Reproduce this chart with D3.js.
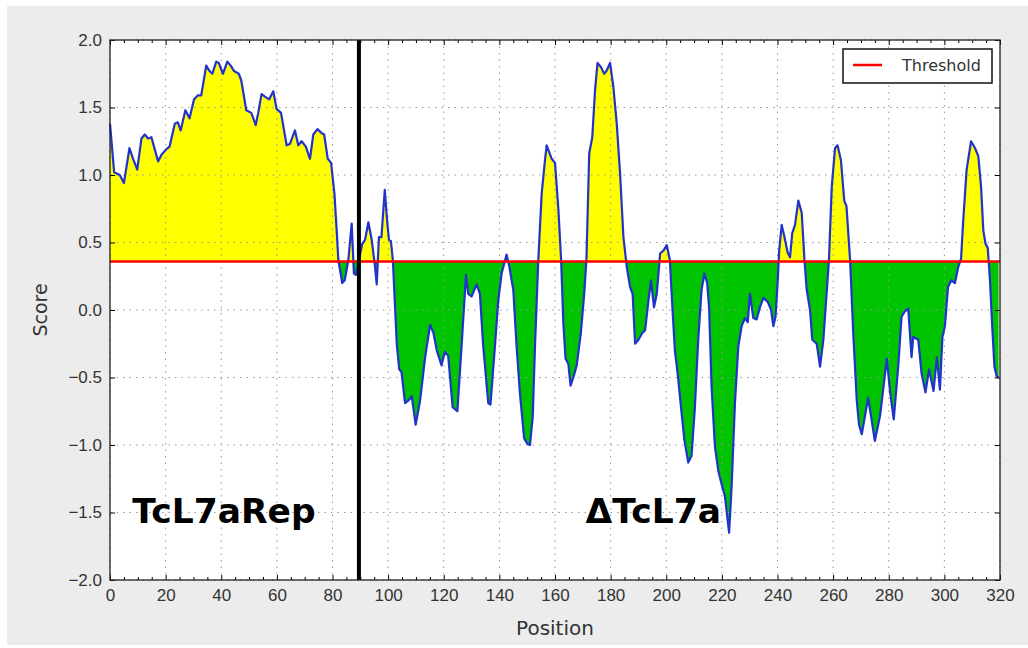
<!DOCTYPE html>
<html>
<head>
<meta charset="utf-8">
<script src="https://cdn.jsdelivr.net/npm/d3@7"></script>
<style>
  html, body { margin: 0; padding: 0; background: #fff; }
  svg { display: block; font-family: "DejaVu Sans", sans-serif; }
  .axis text { fill: #333; font-size: 17px; }
</style>
</head>
<body>
<div id="chart"></div>
<script>
// Data
const positions = [
  0, 1.5, 3.5, 5, 7, 8.3, 9.8, 11.3, 12.5, 13.7, 14.9, 16.1, 17.3, 18.5, 20.2, 21.4,
  23.3, 24.4, 25.4, 27.1, 28.6, 30.2, 31.6, 32.8, 34.6, 35.8, 36.8, 38.2, 39.1, 40.6,
  42.2, 43.4, 44.6, 46.3, 47.2, 49, 50.8, 52.4, 53.3, 54.5, 55.7, 57.2, 58.7, 59.9,
  61.5, 63.5, 64.7, 66.5, 67.7, 68.9, 70.4, 71.9, 73.1, 74.6, 76.1, 77, 78.3, 79.5,
  80.7, 81.5, 82.1, 83.5, 84.4, 85.7, 86.9, 87.7, 88.4, 90.7, 91.7, 92.9, 94.1, 95.3,
  95.9, 96.7, 97.6, 98.8, 99.6, 100.3, 101, 101.7, 103.1, 104, 104.8, 106.1, 107.3,
  108.5, 109.9, 111.5, 113.3, 115.1, 116.3, 117.5, 119.2, 120.4, 121.6, 123.2, 124.9,
  126.4, 128, 128.8, 130, 131.8, 133, 134.2, 136, 136.8, 138.4, 139.6, 140.8, 142.6,
  143.6, 145, 146.2, 147.4, 148.9, 150, 151, 152, 152.8, 154, 155.2, 156.4, 157,
  158.8, 160, 161.2, 162.2, 163, 163.8, 164.8, 165.6, 166.6, 167.8, 169.3, 170.5,
  171.3, 172.3, 173.4, 174.4, 175.3, 176.5, 177.7, 178.5, 179.8, 181, 182.2, 183.4,
  184.6, 185.8, 187, 187.9, 188.8, 190, 191.4, 192.4, 193.6, 194.5, 195.6, 196.6,
  197.8, 199, 200.2, 201.3, 202.2, 203.1, 204.1, 205.3, 206.5, 207.9, 209.1, 210.3,
  211.5, 212.7, 213.7, 214.7, 215.4, 216.3, 217.5, 218.7, 219.9, 221.1, 222.1, 222.6,
  223.5, 224.7, 225.9, 227.1, 228.3, 229.3, 230.1, 231.3, 232.5, 233.7, 234.9, 236.5,
  237.7, 238.5, 239.3, 240.1, 240.6, 241.5, 242.5, 243.6, 244.5, 245.3, 246.3, 247.5,
  248.7, 249.7, 250.5, 251.7, 252.5, 254.1, 255.3, 256.5, 257.3, 258.5, 259.5, 260.7,
  261.6, 262.8, 264, 264.8, 266.1, 267.3, 268.5, 269.3, 270.3, 272.6, 275, 276.9,
  279.3, 280.5, 281.8, 283.4, 284.6, 285.8, 287, 288.2, 288.8, 290.6, 291.8, 293.2,
  294.5, 296.1, 297.3, 298.4, 299.3, 300.2, 301.3, 302.5, 303.8, 305, 306, 306.8,
  308, 309.6, 311, 312.2, 313.2, 314, 314.8, 315.6, 316.4, 317.2, 318, 318.8, 319.5
]
const scores = [
  1.38, 1.02, 1.00, 0.94, 1.20, 1.12, 1.04, 1.27, 1.30, 1.27, 1.28, 1.19, 1.10, 1.15, 1.19, 1.21,
  1.38, 1.39, 1.33, 1.48, 1.42, 1.56, 1.59, 1.59, 1.81, 1.77, 1.75, 1.84, 1.83, 1.75,
  1.84, 1.81, 1.77, 1.75, 1.70, 1.48, 1.46, 1.37, 1.46, 1.60, 1.58, 1.56, 1.62, 1.49,
  1.46, 1.22, 1.23, 1.33, 1.22, 1.25, 1.21, 1.12, 1.30, 1.34, 1.31, 1.30, 1.12, 1.09,
  0.86, 0.59, 0.37, 0.20, 0.22, 0.37, 0.64, 0.27, 0.26, 0.49, 0.52, 0.65, 0.52, 0.32,
  0.19, 0.54, 0.54, 0.89, 0.67, 0.52, 0.51, 0.37, -0.25, -0.44, -0.46, -0.69, -0.67,
  -0.64, -0.85, -0.67, -0.35, -0.11, -0.17, -0.30, -0.41, -0.31, -0.34, -0.72, -0.75,
  -0.27, 0.26, 0.12, 0.10, 0.19, 0.12, -0.27, -0.69, -0.70, -0.27, 0.07, 0.27, 0.41,
  0.32, 0.15, -0.27, -0.62, -0.95, -0.99, -1.00, -0.79, -0.27, 0.37, 0.86, 1.11, 1.22,
  1.12, 1.09, 0.75, 0.37, -0.10, -0.36, -0.40, -0.56, -0.50, -0.41, -0.17, 0.12,
  0.37, 1.16, 1.28, 1.63, 1.83, 1.80, 1.75, 1.77, 1.83, 1.65, 1.38, 1.01,
  0.54, 0.32, 0.17, 0.12, -0.25, -0.22, -0.17, -0.15, 0.07, 0.22, 0.02, 0.12,
  0.42, 0.44, 0.48, 0.37, 0.02, -0.30, -0.47, -0.72, -0.96, -1.13, -1.08, -0.72,
  -0.22, 0.15, 0.27, 0.20, 0.02, -0.57, -1.01, -1.19, -1.29, -1.38, -1.56, -1.65,
  -1.31, -0.69, -0.27, -0.12, -0.06, -0.09, 0.12, -0.06, -0.07, 0.02, 0.09, 0.06,
  0.00, -0.12, -0.05, 0.22, 0.44, 0.63, 0.54, 0.43, 0.39, 0.57, 0.63, 0.81,
  0.72, 0.37, 0.15, 0.00, -0.22, -0.25, -0.42, -0.22, 0.02, 0.37, 0.91, 1.20,
  1.22, 1.11, 0.81, 0.77, 0.37, -0.20, -0.67, -0.85, -0.92, -0.65, -0.97, -0.78,
  -0.36, -0.61, -0.81, -0.42, -0.05, -0.01, 0.01, -0.35, -0.20, -0.22, -0.47, -0.61,
  -0.44, -0.60, -0.35, -0.59, -0.20, -0.12, 0.17, 0.22, 0.20, 0.32, 0.38, 0.67,
  1.04, 1.25, 1.20, 1.14, 0.91, 0.59, 0.49, 0.46, 0.22, -0.12, -0.42, -0.49, -0.50
]
const threshold = 0.36
const boundary = 89.5
const xTicks = d3.range(0, 321, 20)
const xMinorTicks = d3.range(0, 321, 5).filter(d => d % 20 !== 0)
const yTicks = [-2, -1.5, -1, -0.5, 0, 0.5, 1, 1.5, 2]
const regionLabels = ['TcL7aRep', 'ΔTcL7a']
const regionStarts = [8, 171]
const regionY = -1.58
const legendLabel = 'Threshold'

function draw(){
    const dataset = positions.map((p, i) => ({pos: p, score: scores[i]}))

    //Dimensions
    let dimensions = {
        width: 1028,
        height: 648,
        margin: { top: 40, bottom: 68, right: 28, left: 110 }
    }
    dimensions.ctrWidth = dimensions.width - dimensions.margin.left - dimensions.margin.right
    dimensions.ctrHeight = dimensions.height - dimensions.margin.top - dimensions.margin.bottom

    //Scales
    const xScale = d3.scaleLinear()
        .domain([0, 320])
        .range([0, dimensions.ctrWidth])
    const yScale = d3.scaleLinear()
        .domain([-2, 2])
        .range([dimensions.ctrHeight, 0])

    const svg = d3.select('#chart')
        .append('svg')
        .attr('width', dimensions.width)
        .attr('height', dimensions.height)

    // figure background
    svg.append('rect')
        .attr('x', 7).attr('y', 6)
        .attr('width', dimensions.width - 7)
        .attr('height', dimensions.height - 9)
        .attr('fill', '#ececec')

    const ctr = svg.append('g')
        .attr('transform', `translate(${dimensions.margin.left}, ${dimensions.margin.top})`)

    ctr.append('rect')
        .attr('width', dimensions.ctrWidth)
        .attr('height', dimensions.ctrHeight)
        .attr('fill', '#fff')

    const yThr = yScale(threshold)
    const defs = svg.append('defs')
    defs.append('clipPath').attr('id', 'above')
        .append('rect')
        .attr('width', dimensions.ctrWidth)
        .attr('height', yThr)
    defs.append('clipPath').attr('id', 'below')
        .append('rect')
        .attr('y', yThr)
        .attr('width', dimensions.ctrWidth)
        .attr('height', dimensions.ctrHeight - yThr)

    const area = d3.area()
        .x(d => xScale(d.pos))
        .y0(yThr)
        .y1(d => yScale(d.score))

    ctr.append('path')
        .datum(dataset)
        .attr('d', area)
        .attr('fill', '#ffff00')
        .attr('clip-path', 'url(#above)')
    ctr.append('path')
        .datum(dataset)
        .attr('d', area)
        .attr('fill', '#00c400')
        .attr('clip-path', 'url(#below)')

    // grid
    const grid = ctr.append('g')
        .attr('stroke', '#999')
        .attr('stroke-width', 1)
        .attr('stroke-dasharray', '1.5,5')
    grid.selectAll('.gx')
        .data(xTicks)
        .join('line')
        .attr('x1', d => xScale(d)).attr('x2', d => xScale(d))
        .attr('y1', 0).attr('y2', dimensions.ctrHeight)
    grid.selectAll('.gy')
        .data(yTicks)
        .join('line')
        .attr('class', 'gy')
        .attr('x1', 0).attr('x2', dimensions.ctrWidth)
        .attr('y1', d => yScale(d)).attr('y2', d => yScale(d))

    // score line
    const line = d3.line()
        .x(d => xScale(d.pos))
        .y(d => yScale(d.score))
    ctr.append('path')
        .datum(dataset)
        .attr('d', line)
        .attr('fill', 'none')
        .attr('stroke', '#2233cc')
        .attr('stroke-width', 2.2)
        .attr('stroke-linejoin', 'round')

    // threshold
    ctr.append('line')
        .attr('x1', 0).attr('x2', dimensions.ctrWidth)
        .attr('y1', yThr).attr('y2', yThr)
        .attr('stroke', '#ff0000')
        .attr('stroke-width', 2.5)

    // boundary
    ctr.append('line')
        .attr('x1', xScale(boundary)).attr('x2', xScale(boundary))
        .attr('y1', 0).attr('y2', dimensions.ctrHeight)
        .attr('stroke', '#000')
        .attr('stroke-width', 4)

    // Axes (ticks inside, all four sides)
    const xAxis = d3.axisBottom(xScale)
        .tickValues(xTicks)
        .tickSize(-5)
        .tickPadding(9)
        .tickFormat(d3.format('d'))
    ctr.append('g')
        .attr('class', 'axis')
        .attr('transform', `translate(0, ${dimensions.ctrHeight})`)
        .call(xAxis)
        .call(g => g.select('.domain').remove())
    ctr.append('g')
        .attr('transform', `translate(0, ${dimensions.ctrHeight})`)
        .call(d3.axisBottom(xScale).tickValues(xMinorTicks).tickSize(-3).tickFormat(''))
        .call(g => g.select('.domain').remove())
    ctr.append('g')
        .call(d3.axisTop(xScale).tickValues(xTicks).tickSize(-5).tickFormat(''))
        .call(g => g.select('.domain').remove())
    ctr.append('g')
        .call(d3.axisTop(xScale).tickValues(xMinorTicks).tickSize(-3).tickFormat(''))
        .call(g => g.select('.domain').remove())

    const yAxis = d3.axisLeft(yScale)
        .tickValues(yTicks)
        .tickSize(-5)
        .tickPadding(8)
        .tickFormat(d3.format('.1f'))
    ctr.append('g')
        .attr('class', 'axis')
        .call(yAxis)
        .call(g => g.select('.domain').remove())
    ctr.append('g')
        .attr('transform', `translate(${dimensions.ctrWidth}, 0)`)
        .call(d3.axisRight(yScale).tickValues(yTicks).tickSize(-5).tickFormat(''))
        .call(g => g.select('.domain').remove())

    ctr.append('rect')
        .attr('width', dimensions.ctrWidth)
        .attr('height', dimensions.ctrHeight)
        .attr('fill', 'none')
        .attr('stroke', '#222')
        .attr('stroke-width', 1.3)

    // axis titles
    ctr.append('text')
        .attr('x', dimensions.ctrWidth / 2)
        .attr('y', dimensions.ctrHeight + 55)
        .attr('text-anchor', 'middle')
        .attr('fill', '#333')
        .style('font-size', '20px')
        .text('Position')
    ctr.append('text')
        .attr('transform', `translate(${-63}, ${dimensions.ctrHeight / 2}) rotate(-90)`)
        .attr('text-anchor', 'middle')
        .attr('fill', '#333')
        .style('font-size', '19px')
        .text('Score')

    // region labels
    ctr.selectAll('.region')
        .data(regionLabels)
        .join('text')
        .attr('x', (d, i) => xScale(regionStarts[i]))
        .attr('y', yScale(regionY))
        .attr('fill', '#000')
        .style('font-size', '34.5px')
        .style('font-weight', 'bold')
        .text(d => d)

    // legend
    const legend = ctr.append('g')
        .attr('transform', `translate(${dimensions.ctrWidth - 157}, 9)`)
    legend.append('rect')
        .attr('width', 149)
        .attr('height', 34)
        .attr('fill', '#fff')
        .attr('stroke', '#111')
        .attr('stroke-width', 1.5)
    legend.append('line')
        .attr('x1', 10).attr('x2', 39)
        .attr('y1', 16).attr('y2', 16)
        .attr('stroke', '#ff0000')
        .attr('stroke-width', 2.5)
    legend.append('text')
        .attr('x', 59)
        .attr('y', 22)
        .attr('fill', '#333')
        .style('font-size', '16px')
        .text(legendLabel)
}
draw()
</script>
</body>
</html>
